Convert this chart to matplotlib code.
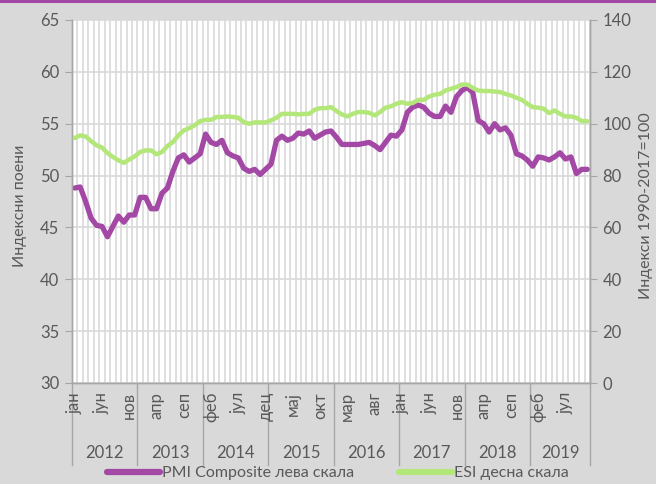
import matplotlib
matplotlib.use("Agg")
import matplotlib.pyplot as plt
from matplotlib.lines import Line2D
import matplotlib.transforms as mtransforms
import numpy as np

plt.rcParams['font.family'] = ['Lato', 'Open Sans', 'DejaVu Sans']

pmi = [48.8, 48.9, 47.5, 45.9, 45.2, 45.1, 44.1, 45.1, 46.1, 45.5, 46.2, 46.2,
       47.9, 47.9, 46.8, 46.8, 48.3, 48.8, 50.4, 51.7, 52.0, 51.3, 51.7, 52.1,
       54.0, 53.2, 53.0, 53.4, 52.2, 51.9, 51.7, 50.7, 50.4, 50.6, 50.1, 50.6,
       51.1, 53.4, 53.8, 53.4, 53.6, 54.1, 54.0, 54.3, 53.6, 53.9, 54.2, 54.3,
       53.7, 53.0, 53.0, 53.0, 53.0, 53.1, 53.2, 52.9, 52.5, 53.2, 53.9, 53.8,
       54.4, 56.1, 56.6, 56.8, 56.6, 56.0, 55.7, 55.7, 56.7, 56.1, 57.6, 58.2,
       58.5, 58.0, 55.3, 55.0, 54.2, 55.0, 54.4, 54.6, 53.9, 52.1, 51.9, 51.5,
       50.9, 51.8, 51.7, 51.5, 51.8, 52.2, 51.6, 51.8, 50.2, 50.6, 50.6]

esi = [94.5, 95.5, 95.1, 93.3, 91.7, 90.8, 88.7, 87.2, 85.9, 84.9, 86.2, 87.4,
       89.1, 89.7, 89.7, 88.2, 89.1, 91.4, 92.9, 95.5, 97.4, 98.3, 99.4, 101.0,
       101.5, 101.5, 102.6, 102.6, 102.8, 102.6, 102.3, 100.6, 100.0, 100.5, 100.5, 100.5,
       101.3, 102.3, 103.8, 103.8, 103.8, 103.6, 103.8, 103.8, 105.4, 106.0, 106.0, 106.4,
       104.9, 103.6, 102.8, 103.8, 104.5, 104.5, 104.2, 103.2, 104.5, 106.2, 106.7, 107.7,
       108.3, 107.7, 108.0, 109.2, 109.2, 110.5, 111.2, 111.5, 112.8, 113.5, 114.1, 115.1,
       115.1, 113.8, 112.8, 112.6, 112.6, 112.4, 112.2, 111.5, 110.9, 110.0, 109.2, 107.7,
       106.4, 106.2, 105.8, 104.1, 105.1, 103.8, 102.8, 102.8, 102.3, 101.0, 101.0]

month_names = ["јан", "феб", "мар", "апр", "мај", "јун",
               "јул", "авг", "сеп", "окт", "нов", "дец"]
years = ["2012", "2013", "2014", "2015", "2016", "2017", "2018", "2019"]
label_every = 5

pmi_label = "PMI Composite лева скала"
esi_label = "ESI десна скала"
left_title = "Индексни поени"
right_title = "Индекси 1990-2017=100"

purple = "#A348A5"
green = "#B4E77A"
grid_c = "#D9D9D9"
axis_c = "#A6A6A6"
text_c = "#595959"
bg = "#D9D9D9"

n = len(pmi)
x = np.arange(n) + 0.5

fig = plt.figure(figsize=(6.56, 4.84), dpi=100, facecolor=bg)
ax = fig.add_axes([72/656, 1-383/484, (590-72)/656, (383-20)/484])
ax.set_facecolor("white")
ax2 = ax.twinx()

ax.set_xlim(0, n)
ax.set_ylim(30, 65)
ax2.set_ylim(0, 140)
ax.set_yticks(np.arange(30, 66, 5))
ax2.set_yticks(np.arange(0, 141, 20))

# vertical gridlines at every month boundary
ax.set_xticks(np.arange(0, n + 1, 1))
ax.set_xticklabels([])
ax.tick_params(axis='x', length=0)
ax.grid(True, axis='both', color=grid_c, linewidth=1.2)
ax.set_axisbelow(True)

for a in (ax, ax2):
    a.spines['top'].set_visible(False)
    for s in ('left', 'right', 'bottom'):
        a.spines[s].set_color(axis_c)
        a.spines[s].set_linewidth(1.0)
ax.tick_params(axis='y', colors=text_c, labelsize=12, length=5, color=axis_c, pad=4)
ax2.tick_params(axis='y', colors=text_c, labelsize=12, length=5, color=axis_c, pad=4)

ax.plot(x, pmi, color=purple, linewidth=3.8, solid_capstyle='round', solid_joinstyle='round', zorder=3)
ax2.plot(x, esi, color=green, linewidth=3.2, solid_capstyle='round', solid_joinstyle='round', zorder=3)

# category axis: month labels
trans = mtransforms.blended_transform_factory(ax.transData, ax.transAxes)
px = 1/363.0  # axes fraction per pixel (vertical)
for i in range(0, n, label_every):
    ax.text(x[i], -9*px, month_names[i % 12], transform=trans, rotation=90,
            ha='center', va='top', fontsize=12, color=text_c)

# year separators and labels
bounds = list(range(0, n, 12)) + [n]
for b in bounds:
    ax.plot([b, b], [0, -82*px], transform=trans, color=axis_c, linewidth=1.0, clip_on=False)
for k, yr in enumerate(years):
    x0 = bounds[k]
    x1 = bounds[k + 1]
    ax.text((x0 + x1) / 2, -70*px, yr, transform=trans, ha='center', va='center',
            fontsize=12, color=text_c)

# axis titles
fig.text(20/656, 1-206/484, left_title, rotation=90, ha='center', va='center',
         fontsize=11.5, color=text_c)
fig.text(646/656, 1-206/484, right_title, rotation=90, ha='center', va='center',
         fontsize=11.5, color=text_c)

# top border
fig.add_artist(Line2D([0, 1], [1 - 1/484, 1 - 1/484], transform=fig.transFigure,
                      color=purple, linewidth=2.2))

handles = [Line2D([], [], color=purple, linewidth=4.5, solid_capstyle='round'),
           Line2D([], [], color=green, linewidth=4.5, solid_capstyle='round')]
fig.legend(handles, [pmi_label, esi_label], loc='center', bbox_to_anchor=(338/656, 1-473/484),
           ncol=2, frameon=False, fontsize=11.5, handlelength=3.3, handletextpad=0.15,
           columnspacing=2.8, labelcolor=text_c, borderpad=0, borderaxespad=0)

fig.savefig("out.png", dpi=100, facecolor=bg)
